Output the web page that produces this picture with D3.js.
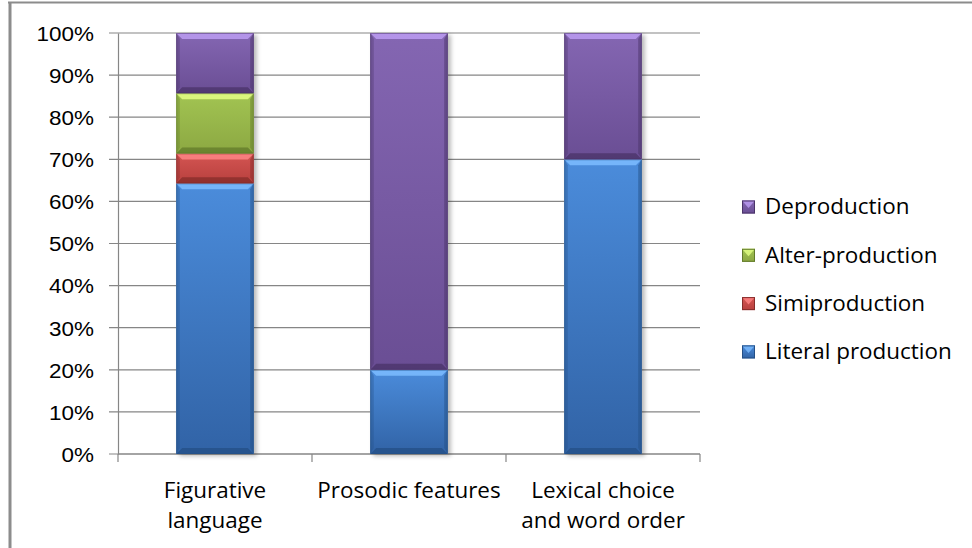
<!DOCTYPE html>
<html>
<head>
<meta charset="utf-8">
<script src="https://cdn.jsdelivr.net/npm/d3@7"></script>
<style>
  html, body { margin: 0; padding: 0; background: #fff; }
  svg { display: block; font-family: "Open Sans", Lato, sans-serif; }
</style>
</head>
<body>
<svg id="chart" width="972" height="548"></svg>
<script>
// Categories (x axis, two-line labels) and series shares per category
const categories = ["Figurative language", "Prosodic features", "Lexical choice and word order"];
const categoryLines = [["Figurative", "language"], ["Prosodic features"], ["Lexical choice", "and word order"]];
const seriesNames = ["Literal production", "Simiproduction", "Alter-production", "Deproduction"];
const literal = [64.3, 20, 70];
const simi = [7.1, 0, 0];
const alter = [14.3, 0, 0];
const depro = [14.3, 80, 30];
const yTicks = [0, 10, 20, 30, 40, 50, 60, 70, 80, 90, 100];

// Fill palette per series: top, bottom, bevel highlight, bevel shade
const palette = {
  "Literal production": { top: "#4b8cdb", bottom: "#3163a6", light: "#7cbcff", dark: "#244f86" },
  "Simiproduction":     { top: "#d45552", bottom: "#b8403e", light: "#ff8585", dark: "#852c2a" },
  "Alter-production":   { top: "#a2c452", bottom: "#8ca842", light: "#e4ff85", dark: "#617a2a" },
  "Deproduction":       { top: "#8466b2", bottom: "#6a4e94", light: "#bc9cf2", dark: "#4a3368" }
};

const FONT = 21;      // label size
const WIDEN = 1.07;   // slight horizontal stretch of label glyphs

const svg = d3.select("#chart");
const margin = { left: 118, right: 700, top: 33, bottom: 454 };

const x = d3.scaleBand().domain(categories).range([margin.left, margin.right])
  .paddingInner(0.6).paddingOuter(0.3);
const y = d3.scaleLinear().domain([0, 100]).range([margin.bottom, margin.top]);

// Outer frame (top and left edges)
svg.append("line").attr("x1", 8).attr("x2", 972).attr("y1", 2.5).attr("y2", 2.5)
  .attr("stroke", "#8c8c8c").attr("stroke-width", 2);
svg.append("line").attr("x1", 10).attr("x2", 10).attr("y1", 2).attr("y2", 548)
  .attr("stroke", "#8c8c8c").attr("stroke-width", 3);

const defs = svg.append("defs");
seriesNames.forEach((s, i) => {
  const g = defs.append("linearGradient").attr("id", "grad" + i)
    .attr("x1", 0).attr("y1", 0).attr("x2", 0).attr("y2", 1);
  g.append("stop").attr("offset", "0%").attr("stop-color", palette[s].top);
  g.append("stop").attr("offset", "100%").attr("stop-color", palette[s].bottom);
});
const shadow = defs.append("filter").attr("id", "shadow")
  .attr("x", "-20%").attr("y", "-5%").attr("width", "140%").attr("height", "115%");
shadow.append("feDropShadow").attr("dx", 3).attr("dy", 2).attr("stdDeviation", 2)
  .attr("flood-color", "#000").attr("flood-opacity", 0.28);

// Gridlines with left tick stubs
const grid = svg.append("g");
yTicks.forEach(t => {
  grid.append("line").attr("x1", margin.left - 9).attr("x2", margin.right)
    .attr("y1", y(t)).attr("y2", y(t))
    .attr("stroke", "#868686").attr("stroke-width", 1.2);
});

// Y axis
const yAxis = d3.axisLeft(y).tickValues(yTicks).tickFormat(d => d + "%").tickSize(0).tickPadding(24);
const yg = svg.append("g").attr("transform", `translate(${margin.left},0)`).call(yAxis);
yg.select(".domain").attr("stroke", "#868686").attr("stroke-width", 1.2);
yg.selectAll("text").attr("font-size", FONT).attr("fill", "#000").attr("dy", "0.35em")
  .attr("x", -24 / WIDEN).attr("transform", `scale(${WIDEN},1)`);

// X axis
const xg = svg.append("g");
xg.append("line").attr("x1", margin.left).attr("x2", margin.right)
  .attr("y1", y(0)).attr("y2", y(0)).attr("stroke", "#868686").attr("stroke-width", 1.2);
const step = x.step();
const boundaries = d3.range(categories.length + 1).map(i => margin.left + i * step);
boundaries.forEach(b => {
  xg.append("line").attr("x1", b).attr("x2", b).attr("y1", y(0)).attr("y2", y(0) + 8)
    .attr("stroke", "#868686").attr("stroke-width", 1.2);
});
categories.forEach((c, i) => {
  const cx = x(c) + x.bandwidth() / 2;
  const t = xg.append("text").attr("transform", `translate(${cx},498) scale(${WIDEN},1)`)
    .attr("text-anchor", "middle").attr("font-size", FONT).attr("fill", "#000");
  categoryLines[i].forEach((ln, j) => {
    t.append("tspan").attr("x", 0).attr("dy", j === 0 ? 0 : 30).text(ln);
  });
});

// Stacked bars
const rows = categories.map((c, i) => ({
  cat: c,
  "Literal production": literal[i],
  "Simiproduction": simi[i],
  "Alter-production": alter[i],
  "Deproduction": depro[i]
}));
const stacked = d3.stack().keys(seriesNames)(rows);

function bevelSegment(g, x0, y0, w, h, s, gradId) {
  const x1 = x0 + w, y1 = y0 + h;
  const b = Math.min(6, h / 2.5, w / 4);
  g.append("rect").attr("x", x0).attr("y", y0).attr("width", w).attr("height", h)
    .attr("fill", `url(#${gradId})`);
  // left and right edges
  g.append("polygon").attr("points", [[x0, y0], [x0 + b * 0.6, y0 + b], [x0 + b * 0.6, y1 - b], [x0, y1]].join(" "))
    .attr("fill", palette[s].dark).attr("opacity", 0.35);
  g.append("polygon").attr("points", [[x1, y0], [x1 - b * 0.6, y0 + b], [x1 - b * 0.6, y1 - b], [x1, y1]].join(" "))
    .attr("fill", palette[s].dark).attr("opacity", 0.5);
  // bottom edge
  g.append("polygon").attr("points", [[x0, y1], [x0 + b, y1 - b], [x1 - b, y1 - b], [x1, y1]].join(" "))
    .attr("fill", palette[s].dark).attr("opacity", 0.75);
  // top highlight
  g.append("polygon").attr("points", [[x0, y0], [x1, y0], [x1 - b, y0 + b], [x0 + b, y0 + b]].join(" "))
    .attr("fill", palette[s].light).attr("opacity", 0.85);
  // thin outline
  g.append("rect").attr("x", x0 + 0.5).attr("y", y0 + 0.5).attr("width", w - 1).attr("height", Math.max(0, h - 1))
    .attr("fill", "none").attr("stroke", palette[s].dark).attr("stroke-opacity", 0.5).attr("stroke-width", 1);
}

const barsG = svg.append("g");
// soft shadow behind each column
categories.forEach(c => {
  barsG.append("rect").attr("x", x(c)).attr("y", y(100)).attr("width", x.bandwidth())
    .attr("height", y(0) - y(100)).attr("fill", "#fff").attr("filter", "url(#shadow)");
});
stacked.forEach((layer, si) => {
  const s = seriesNames[si];
  layer.forEach(d => {
    const v = d[1] - d[0];
    if (v <= 0) return;
    const c = d.data.cat;
    bevelSegment(barsG, x(c), y(d[1]), x.bandwidth(), y(d[0]) - y(d[1]), s, "grad" + si);
  });
});

// Legend (reverse order, top = Deproduction)
const legend = svg.append("g");
const legendOrder = seriesNames.slice().reverse();
legendOrder.forEach((s, i) => {
  const cy = 207 + i * 48.3;
  const gi = seriesNames.indexOf(s);
  const lg = legend.append("g");
  const mx = 742, size = 13;
  lg.append("rect").attr("x", mx).attr("y", cy - size / 2).attr("width", size).attr("height", size)
    .attr("fill", `url(#grad${gi})`);
  lg.append("polygon").attr("points", [[mx, cy - size / 2], [mx + size, cy - size / 2], [mx + size / 2, cy + 1]].join(" "))
    .attr("fill", palette[s].light).attr("opacity", 0.8);
  lg.append("rect").attr("x", mx + 0.5).attr("y", cy - size / 2 + 0.5).attr("width", size - 1).attr("height", size - 1)
    .attr("fill", "none").attr("stroke", palette[s].dark).attr("stroke-width", 1);
  lg.append("text").attr("transform", `translate(765,${cy}) scale(${WIDEN},1)`).attr("dy", "0.35em")
    .attr("font-size", FONT).attr("fill", "#000").text(s);
});
</script>
</body>
</html>
